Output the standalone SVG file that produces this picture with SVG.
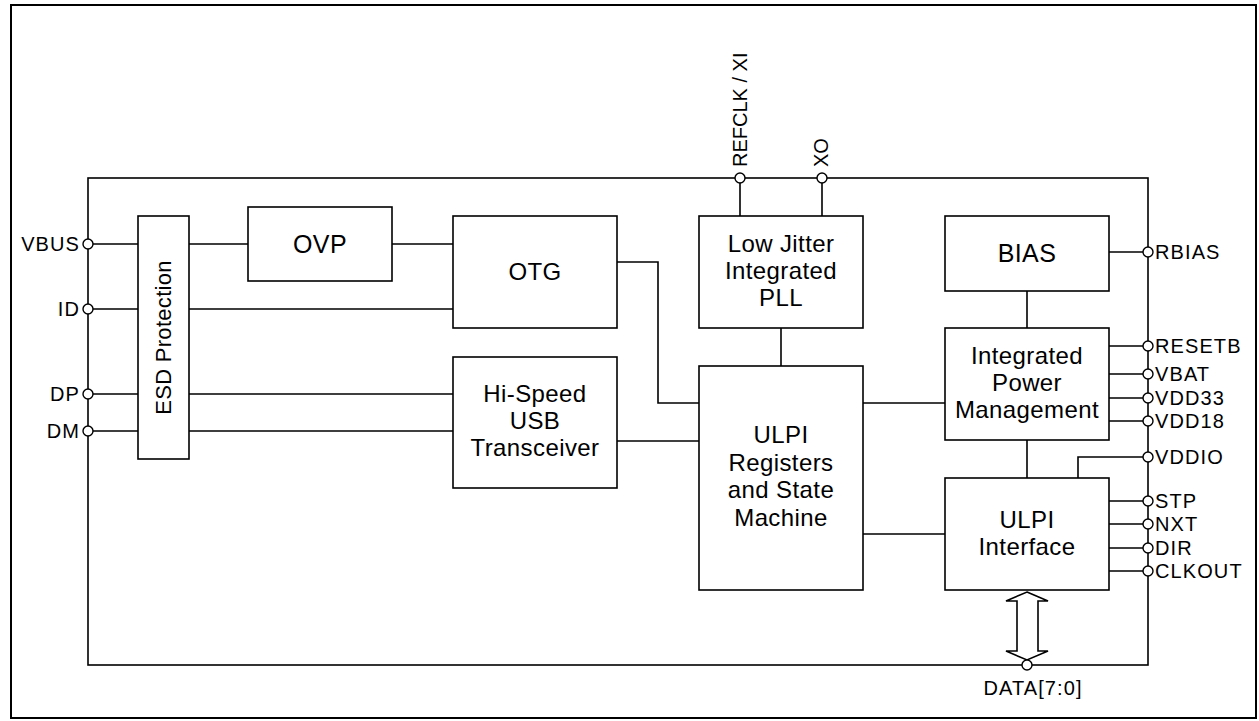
<svg xmlns="http://www.w3.org/2000/svg" width="1259" height="721" viewBox="0 0 1259 721">
<style>
.box{fill:#fff;stroke:#000;stroke-width:1.6}
.ln{fill:none;stroke:#000;stroke-width:1.6}
.pin{fill:#fff;stroke:#000;stroke-width:1.4}
.bt{font-family:"Liberation Sans",Arial,sans-serif;font-size:24px;letter-spacing:0.4px;text-anchor:middle;fill:#000}
.pl{font-family:"Liberation Sans",Arial,sans-serif;font-size:20px;letter-spacing:1.1px;fill:#000}
.pr{text-anchor:end}
</style>
<rect x="11" y="5" width="1245" height="713" fill="#fff" stroke="#000" stroke-width="2"/>
<rect id="chip" x="88" y="178" width="1060" height="487" fill="none" stroke="#000" stroke-width="1.6"/>
<g id="connectors">
<path class="ln" d="M88 244H138M189 244H248M392 244H453"/>
<path class="ln" d="M88 309H138M189 309H453"/>
<path class="ln" d="M88 394H138M189 394H453"/>
<path class="ln" d="M88 431H138M189 431H453"/>
<path class="ln" d="M617 441H699"/>
<path class="ln" d="M617 262H658V403H699"/>
<path class="ln" d="M781 328V366"/>
<path class="ln" d="M740 178V216M822 178V216"/>
<path class="ln" d="M863 403H945M863 534H945"/>
<path class="ln" d="M1109 252H1148"/>
<path class="ln" d="M1027 291V328M1027 440V478"/>
<path class="ln" d="M1109 346H1148M1109 374H1148M1109 398H1148M1109 421H1148"/>
<path class="ln" d="M1148 457H1078V478"/>
<path class="ln" d="M1109 501H1148M1109 524H1148M1109 548H1148M1109 571H1148"/>
<polygon class="box" points="1027,592 1048,601 1038,601 1038,651 1048,651 1027,660 1006,651 1017,651 1017,601 1006,601"/>
</g>
<g id="esd"><rect class="box" x="138" y="216" width="51" height="243"/><text class="bt" transform="translate(171 337.5) rotate(-90)" x="0" y="0" style="font-size:22px;letter-spacing:0.3px">ESD Protection</text></g>
<g id="ovp"><rect class="box" x="248" y="207" width="144" height="74"/><text class="bt" x="320" y="253" style="font-size:25px">OVP</text></g>
<g id="otg"><rect class="box" x="453" y="216" width="164" height="112"/><text class="bt" x="535" y="280">OTG</text></g>
<g id="transceiver"><rect class="box" x="453" y="357" width="164" height="131"/><text class="bt" x="535" y="402">Hi-Speed</text><text class="bt" x="535" y="429">USB</text><text class="bt" x="535" y="456">Transceiver</text></g>
<g id="pll"><rect class="box" x="699" y="216" width="164" height="112"/><text class="bt" x="781" y="252">Low Jitter</text><text class="bt" x="781" y="279">Integrated</text><text class="bt" x="781" y="306">PLL</text></g>
<g id="ulpiregs"><rect class="box" x="699" y="366" width="164" height="224"/><text class="bt" x="781" y="443">ULPI</text><text class="bt" x="781" y="471">Registers</text><text class="bt" x="781" y="498">and State</text><text class="bt" x="781" y="526">Machine</text></g>
<g id="bias"><rect class="box" x="945" y="216" width="164" height="75"/><text class="bt" x="1027" y="262" style="font-size:25px">BIAS</text></g>
<g id="ipm"><rect class="box" x="945" y="328" width="164" height="112"/><text class="bt" x="1027" y="364">Integrated</text><text class="bt" x="1027" y="391">Power</text><text class="bt" x="1027" y="418">Management</text></g>
<g id="ulpiif"><rect class="box" x="945" y="478" width="164" height="112"/><text class="bt" x="1027" y="528">ULPI</text><text class="bt" x="1027" y="555">Interface</text></g>
<g id="pins">
<circle class="pin" cx="88" cy="244" r="5"/><text class="pl pr" x="80" y="251">VBUS</text>
<circle class="pin" cx="88" cy="309" r="5"/><text class="pl pr" x="80" y="316">ID</text>
<circle class="pin" cx="88" cy="394" r="5"/><text class="pl pr" x="80" y="401">DP</text>
<circle class="pin" cx="88" cy="431" r="5"/><text class="pl pr" x="80" y="438">DM</text>
<circle class="pin" cx="740" cy="178" r="5"/><text class="pl" transform="translate(747 167) rotate(-90)" style="letter-spacing:0">REFCLK / XI</text>
<circle class="pin" cx="822" cy="178" r="5"/><text class="pl" transform="translate(828 167) rotate(-90)" style="letter-spacing:0">XO</text>
<circle class="pin" cx="1148" cy="252" r="5"/><text class="pl" x="1155" y="259">RBIAS</text>
<circle class="pin" cx="1148" cy="346" r="5"/><text class="pl" x="1155" y="353">RESETB</text>
<circle class="pin" cx="1148" cy="374" r="5"/><text class="pl" x="1155" y="381">VBAT</text>
<circle class="pin" cx="1148" cy="398" r="5"/><text class="pl" x="1155" y="405">VDD33</text>
<circle class="pin" cx="1148" cy="421" r="5"/><text class="pl" x="1155" y="428">VDD18</text>
<circle class="pin" cx="1148" cy="457" r="5"/><text class="pl" x="1155" y="464">VDDIO</text>
<circle class="pin" cx="1148" cy="501" r="5"/><text class="pl" x="1155" y="508">STP</text>
<circle class="pin" cx="1148" cy="524" r="5"/><text class="pl" x="1155" y="531">NXT</text>
<circle class="pin" cx="1148" cy="548" r="5"/><text class="pl" x="1155" y="555">DIR</text>
<circle class="pin" cx="1148" cy="571" r="5"/><text class="pl" x="1155" y="578">CLKOUT</text>
<circle class="pin" cx="1027" cy="665" r="5"/><text class="pl" x="1033" y="695" style="text-anchor:middle">DATA[7:0]</text>
</g>
</svg>
